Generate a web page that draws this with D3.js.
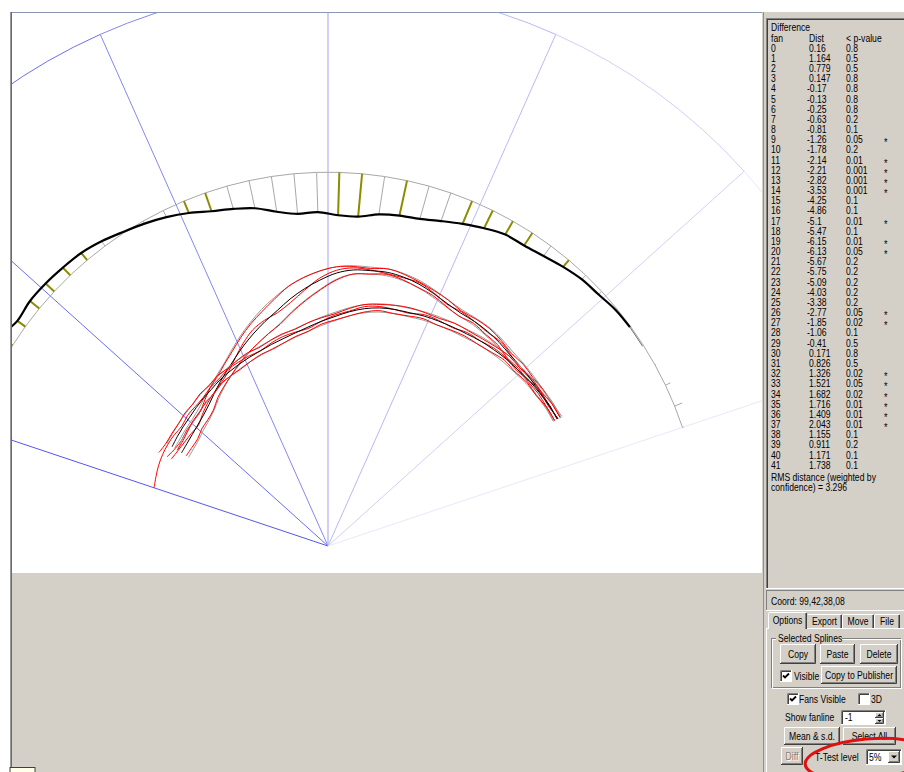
<!DOCTYPE html>
<html>
<head>
<meta charset="utf-8">
<script src="https://cdnjs.cloudflare.com/ajax/libs/d3/7.8.5/d3.min.js"></script>
<style>
  html, body { margin: 0; padding: 0; background: #ffffff; }
  svg { display: block; }
  text { font-family: "Liberation Sans", Arial, sans-serif; font-size: 10.4px; fill: #000; }
</style>
</head>
<body>
<svg id="app" width="904" height="772"></svg>
<script>
// ---------- data ----------
// fan lines of the ultrasound frame, numbered right to left
const fanIds = [0,1,2,3,4,5,6,7,8,9,10,11,12,13,14,15,16,17,18,19,20,
                21,22,23,24,25,26,27,28,29,30,31,32,33,34,35,36,37,38,39,40,41];
// mean difference (mm) between the two spline sets on each fan line
const distValues = [0.16, 1.164, 0.779, 0.147, -0.17, -0.13, -0.25, -0.63, -0.81, -1.26,
                    -1.78, -2.14, -2.21, -2.82, -3.53, -4.25, -4.86, -5.1, -5.47, -6.15,
                    -6.13, -5.67, -5.75, -5.09, -4.03, -3.38, -2.77, -1.85, -1.06, -0.41,
                    0.171, 0.826, 1.326, 1.521, 1.682, 1.716, 1.409, 2.043, 1.155, 0.911,
                    1.171, 1.738];
// t-test p-value bound for each fan
const pValues = [0.8, 0.5, 0.5, 0.8, 0.8, 0.8, 0.8, 0.2, 0.1, 0.05,
                 0.2, 0.01, 0.001, 0.001, 0.001, 0.1, 0.1, 0.01, 0.1, 0.01,
                 0.05, 0.2, 0.2, 0.2, 0.2, 0.2, 0.05, 0.02, 0.1, 0.5,
                 0.8, 0.5, 0.02, 0.05, 0.02, 0.01, 0.01, 0.01, 0.1, 0.2,
                 0.1, 0.1];
const tTestLevel = 0.05;
const rmsDistance = 3.296;
const coordText = "Coord: 99,42,38,08";

// frame: fan boundary lines (degrees from vertical, clockwise) and outer radius (mm)
const frameAngles = [-71.5, -48, -24, 0, 24, 48, 71.5];
const frameRadius = 80;
const fanSpan = [71.5, -71.5];   // angle of fan 0 and fan 41
const diffBaseline = 53.4;       // radius (mm) of the reference arc for the difference curve

// splines: radius (mm) along each fan, starting at splineStartFan
const splineStartFan = 3;
const upperMean = [37.4,37.5,37.4,37.5,37.6,37.7,38.0,38.2,38.3,38.3,
                   38.6,39.1,39.6,39.9,40.0,39.8,39.6,39.0,38.0,36.9,
                   35.7,34.4,33.3,32.2,31.1,30.0,29.0,28.1,27.2,26.4,
                   25.8,25.4,25.1,24.9,24.8];
const upperSd = [0.6,0.6,0.6,0.6,0.6,0.6,0.6,0.6,0.5,0.5,
                 0.5,0.5,0.5,0.5,0.5,0.5,0.6,0.9,1.3,1.6,
                 1.8,1.9,1.8,1.6,1.4,1.2,1.0,1.0,1.0,1.1,
                 1.1,1.1,1.2,1.2,1.2];
const upperSplines = [
  [37.9,37.9,38.0,37.9,38.1,38.0,38.4,38.7,38.7,38.6,
   39.1,39.5,39.9,40.3,40.5,40.1,40.1,39.9,39.3,38.5,
   37.5,36.1,34.8,33.6,32.3,31.0,29.9,28.9,28.2,27.3,
   26.5,26.2,26.1,25.8,25.9,26.3],
  [37.0,37.0,37.1,37.0,37.2,37.1,37.6,37.7,38.0,37.8,
   38.2,38.8,39.1,39.5,39.7,39.3,39.0,38.0,36.6,35.2,
   33.8,32.4,31.5,30.6,29.8,28.9,28.0,27.2,26.4,25.4,
   24.9,24.6,24.1,24.0,24.0],
  [37.5,37.4,37.6,37.5,37.4,37.8,38.2,38.1,38.3,38.5,
   38.5,39.2,39.8,39.8,39.8,39.9,39.9,39.4,38.3,36.7,
   35.2,34.1,33.5,32.7,31.4,30.0,28.7,27.9,27.3,26.7,
   26.0,25.3,25.3,25.3,25.4,25.6]
];
const lowerMean = [37.5,37.4,37.3,37.2,37.0,36.9,36.7,36.5,36.2,36.0,
                   35.8,35.6,35.3,35.1,34.8,34.3,33.6,32.8,32.1,31.4,
                   30.8,30.3,29.9,29.5,29.2,28.9,28.6,28.3,27.9,27.6,
                   27.3,27.0,26.8,26.6,26.4];
const lowerSd = [0.7,0.6,0.6,0.6,0.6,0.6,0.6,0.6,0.6,0.6,
                 0.6,0.6,0.6,0.6,0.6,0.6,0.6,0.6,0.6,0.6,
                 0.6,0.6,0.6,0.6,0.6,0.6,0.6,0.6,0.7,0.7,
                 0.7,0.8,0.8,0.8,0.9];
const lowerSplines = [
  [37.9,37.9,37.6,37.7,37.4,37.5,37.2,36.9,36.7,36.6,
   36.2,36.1,36.0,35.7,35.3,34.9,34.1,33.2,32.6,32.0,
   31.3,31.0,30.5,30.0,29.9,29.5,29.1,29.0,28.5,28.4,
   28.0,27.9,27.6,27.5,27.4,27.6],
  [37.0,37.0,36.7,36.8,36.5,36.6,36.2,35.9,35.8,35.5,
   35.2,35.2,34.8,34.5,34.4,33.8,33.0,32.3,31.7,30.8,
   30.3,29.7,29.2,29.0,28.6,28.2,28.0,27.8,27.2,27.0,
   26.5,26.3,25.9,25.6,25.5],
  [37.6,37.3,37.5,37.2,36.8,37.0,36.9,36.5,36.4,35.9,
   35.9,35.8,35.2,35.1,35.0,34.6,33.7,33.0,32.1,31.2,
   30.9,30.6,30.1,29.5,29.4,29.2,29.0,28.5,28.2,27.7,
   27.5,27.4,27.0,27.1,27.1,27.0,26.8,26.5,26.2]
];

// ---------- layout ----------
const svg = d3.select("#app");
const canvas = { x: 12, y: 13, w: 750, h: 560 };
const origin = { x: 328, y: 546 };
const rScale = d3.scaleLinear().domain([0, frameRadius]).range([0, 560]);
const fanAngle = d3.scaleLinear().domain([0, 41]).range(fanSpan);
const rad = deg => deg * Math.PI / 180;
const frameColor = d3.scaleLinear().domain([-71.5, 71.5])
  .range(["#5656ee", "#e8e8f8"]).interpolate(d3.interpolateRgb);
const FACE = "#d4d0c8";

// ---------- window background ----------
svg.append("rect").attr("x", 0).attr("y", 0).attr("width", 904).attr("height", 772).attr("fill", "#fff");
svg.append("rect").attr("x", 12).attr("y", 573).attr("width", 750).attr("height", 199).attr("fill", FACE);
svg.append("line").attr("x1", 11).attr("x2", 762).attr("y1", 12.5).attr("y2", 12.5).attr("stroke", "#8a96b4");
svg.append("line").attr("x1", 10.5).attr("x2", 10.5).attr("y1", 12).attr("y2", 772).attr("stroke", "#9a9a9a");
svg.append("line").attr("x1", 11.5).attr("x2", 11.5).attr("y1", 12).attr("y2", 772).attr("stroke", "#6a6a6a");
svg.append("rect").attr("x", 10).attr("y", 767.5).attr("width", 25).attr("height", 6)
  .attr("fill", "#ffffea").attr("stroke", "#404040");

// ---------- fan plot ----------
svg.append("defs").append("clipPath").attr("id", "canvasClip")
  .append("rect").attr("x", canvas.x).attr("y", canvas.y).attr("width", canvas.w).attr("height", canvas.h);
const clipped = svg.append("g").attr("clip-path", "url(#canvasClip)");
const plot = clipped.append("g").attr("transform", `translate(${origin.x},${origin.y})`);

// frame lines
const R = rScale(frameRadius);
plot.selectAll("line.frame").data(frameAngles).join("line")
  .attr("class", "frame")
  .attr("x1", 0).attr("y1", 0)
  .attr("x2", a => d3.pointRadial(rad(a), R)[0])
  .attr("y2", a => d3.pointRadial(rad(a), R)[1])
  .attr("stroke", a => frameColor(a)).attr("stroke-width", 1);

// outer arc, one segment per frame sector
const sectors = d3.pairs(frameAngles);
plot.selectAll("path.outer").data(sectors).join("path")
  .attr("class", "outer")
  .attr("d", ([a0, a1]) => {
    const p = d3.path();
    const s = d3.pointRadial(rad(a0), R);
    p.moveTo(s[0], s[1]);
    p.arc(0, 0, R, rad(a0) - Math.PI / 2, rad(a1) - Math.PI / 2, false);
    return p.toString();
  })
  .attr("fill", "none")
  .attr("stroke", ([a0, a1]) => frameColor(Math.abs(a1) > Math.abs(a0) ? a1 : a0))
  .attr("stroke-width", 1);

// reference arc through all fans
const fanPoints = fanIds.map(f => ({ fan: f, r: diffBaseline }));
const radialLinear = d3.lineRadial()
  .angle(d => rad(fanAngle(d.fan)))
  .radius(d => rScale(d.r))
  .defined(d => d.r != null);
plot.append("path").attr("d", radialLinear(fanPoints))
  .attr("fill", "none").attr("stroke", "#a8a8a8").attr("stroke-width", 1);

// per-fan difference ticks (olive where the t-test is significant)
const significant = fanIds.map(f => pValues[f] <= tTestLevel);
plot.selectAll("line.tick").data(fanIds).join("line")
  .attr("class", "tick")
  .attr("x1", f => d3.pointRadial(rad(fanAngle(f)), rScale(diffBaseline))[0])
  .attr("y1", f => d3.pointRadial(rad(fanAngle(f)), rScale(diffBaseline))[1])
  .attr("x2", f => d3.pointRadial(rad(fanAngle(f)), rScale(diffBaseline + distValues[f]))[0])
  .attr("y2", f => d3.pointRadial(rad(fanAngle(f)), rScale(diffBaseline + distValues[f]))[1])
  .attr("stroke", f => significant[f] ? "#8c8c00" : "#a8a8a8")
  .attr("stroke-width", f => significant[f] ? 2 : 1);

// difference curve
const radialSmooth = d3.lineRadial()
  .angle(d => rad(fanAngle(d.fan)))
  .radius(d => rScale(d.r))
  .curve(d3.curveCatmullRom.alpha(0.5));
const diffPoints = fanIds.map(f => ({ fan: f, r: diffBaseline + distValues[f] }));
plot.append("path").attr("d", radialLinear(diffPoints.slice(4, 6)))
  .attr("fill", "none").attr("stroke", "#707070").attr("stroke-width", 1);
plot.append("path").attr("d", radialSmooth(diffPoints.slice(5)))
  .attr("fill", "none").attr("stroke", "#000").attr("stroke-width", 2.2)
  .attr("stroke-linejoin", "round");

// splines
const toPoints = vals => vals.map((r, i) => ({ fan: splineStartFan + i, r }));
function drawSet(mean, sd, splines) {
  const hi = mean.map((m, i) => m + sd[i]);
  const lo = mean.map((m, i) => m - sd[i]);
  [hi, lo].forEach(v => plot.append("path").attr("d", radialSmooth(toPoints(v)))
    .attr("fill", "none").attr("stroke", "#9a9a9a").attr("stroke-width", 1));
  splines.forEach(v => plot.append("path").attr("d", radialSmooth(toPoints(v)))
    .attr("fill", "none").attr("stroke", "#ff0000").attr("stroke-width", 1));
  plot.append("path").attr("d", radialSmooth(toPoints(mean)))
    .attr("fill", "none").attr("stroke", "#000").attr("stroke-width", 1);
}
drawSet(upperMean, upperSd, upperSplines);
drawSet(lowerMean, lowerSd, lowerSplines);

// ---------- side panel ----------
const panel = svg.append("g");
panel.append("rect").attr("x", 762).attr("y", 12).attr("width", 142).attr("height", 760).attr("fill", FACE);
panel.append("line").attr("x1", 763.5).attr("x2", 763.5).attr("y1", 12).attr("y2", 772).attr("stroke", "#909090");

function hline(g, x1, x2, y, c) { g.append("line").attr("x1", x1).attr("x2", x2).attr("y1", y).attr("y2", y).attr("stroke", c); }
function vline(g, x, y1, y2, c) { g.append("line").attr("x1", x).attr("x2", x).attr("y1", y1).attr("y2", y2).attr("stroke", c); }
function label(g, x, y, s, opts = {}) {
  const t = g.append("text")
    .attr("transform", `translate(${x},${y}) scale(${opts.sx || 0.83},1)`)
    .attr("text-anchor", opts.anchor || "start")
    .text(s);
  if (opts.fill) t.style("fill", opts.fill);
  if (opts.size) t.style("font-size", opts.size + "px");
  return t;
}
function raised(g, x, y, w, h) {
  g.append("rect").attr("x", x).attr("y", y).attr("width", w).attr("height", h).attr("fill", FACE);
  g.append("path").attr("d", `M${x + 0.5},${y + h - 1}V${y + 0.5}H${x + w - 1}`).attr("fill", "none").attr("stroke", "#fff");
  g.append("path").attr("d", `M${x},${y + h - 0.5}H${x + w - 0.5}V${y}`).attr("fill", "none").attr("stroke", "#404040");
  g.append("path").attr("d", `M${x + 1},${y + h - 1.5}H${x + w - 1.5}V${y + 1}`).attr("fill", "none").attr("stroke", "#808080");
}
function sunken(g, x, y, w, h, fill) {
  g.append("rect").attr("x", x).attr("y", y).attr("width", w).attr("height", h).attr("fill", fill);
  g.append("path").attr("d", `M${x + 0.5},${y + h}V${y + 0.5}H${x + w}`).attr("fill", "none").attr("stroke", "#808080");
  g.append("path").attr("d", `M${x + 1.5},${y + h - 1}V${y + 1.5}H${x + w - 1}`).attr("fill", "none").attr("stroke", "#404040");
  g.append("path").attr("d", `M${x},${y + h - 0.5}H${x + w - 0.5}V${y}`).attr("fill", "none").attr("stroke", "#fff");
}
function button(g, x, y, w, h, s, disabled) {
  raised(g, x, y, w, h);
  const cx = x + w / 2, by = y + h / 2 + 3.8;
  if (disabled) {
    label(g, cx + 1, by + 1, s, { anchor: "middle", fill: "#fff" });
    label(g, cx, by, s, { anchor: "middle", fill: "#808080" });
  } else {
    label(g, cx, by, s, { anchor: "middle" });
  }
}
function checkbox(g, x, y, checked) {
  sunken(g, x, y, 12, 12, "#fff");
  if (checked) {
    g.append("path").attr("d", `M${x + 3},${y + 5.5}L${x + 5},${y + 7.5}L${x + 9},${y + 3.5}`)
      .attr("fill", "none").attr("stroke", "#000").attr("stroke-width", 1.8);
  }
}
function triangle(g, cx, cy, down, s = 3) {
  const d = down ? `M${cx - s},${cy - s / 2}L${cx + s},${cy - s / 2}L${cx},${cy + s / 2}Z`
                 : `M${cx - s},${cy + s / 2}L${cx + s},${cy + s / 2}L${cx},${cy - s / 2}Z`;
  g.append("path").attr("d", d).attr("fill", "#000");
}

// results list
const list = panel.append("g");
hline(list, 766, 904, 18.5, "#808080");
hline(list, 767, 904, 19.5, "#404040");
vline(list, 766.5, 18, 589, "#808080");
vline(list, 767.5, 19, 588, "#404040");
hline(list, 766, 904, 588.5, "#ffffff");
const colX = { fan: 771, dist: 809, p: 846, star: 884 };
label(list, colX.fan, 31, "Difference");
label(list, colX.fan, 41.5, "fan");
label(list, colX.dist, 41.5, "Dist");
label(list, colX.p, 41.5, "< p-value");
const rowY = d3.scaleLinear().domain([0, 41]).range([51.7, 468.7]);
fanIds.forEach(f => {
  const y = rowY(f);
  label(list, colX.fan, y, String(f));
  label(list, colX.dist - (distValues[f] < 0 ? 2 : 0), y, String(distValues[f]));
  label(list, colX.p, y, String(pValues[f]));
  if (significant[f]) label(list, colX.star, y + 3, "*", { size: 10, sx: 0.9 });
});
label(list, colX.fan, 480.5, "RMS distance (weighted by");
label(list, colX.fan, 491, "confidence) = " + rmsDistance);

// coordinate readout
const coord = panel.append("g");
hline(coord, 766, 904, 590.5, "#808080");
vline(coord, 766.5, 590, 611, "#808080");
hline(coord, 766, 904, 610.5, "#ffffff");
label(coord, 771, 605, coordText);

// tabs
const tabs = panel.append("g");
hline(tabs, 807, 904, 628.5, "#ffffff");
vline(tabs, 766.5, 628, 772, "#ffffff");
hline(tabs, 766, 768, 628.5, "#ffffff");
const tabDefs = [
  { name: "Options", x0: 768, x1: 807, sel: true },
  { name: "Export", x0: 807, x1: 842 },
  { name: "Move", x0: 842, x1: 874 },
  { name: "File", x0: 874, x1: 900 }
];
tabDefs.forEach(t => {
  const top = t.sel ? 612 : 614;
  if (t.sel) tabs.append("rect").attr("x", t.x0).attr("y", top).attr("width", t.x1 - t.x0).attr("height", 17).attr("fill", FACE);
  if (t.x0 !== 807) vline(tabs, t.x0 + 0.5, top + 1, 629, "#ffffff");
  hline(tabs, t.x0 + 1, t.x1 - 1, top + 0.5, "#ffffff");
  vline(tabs, t.x1 - 0.5, top + 1, t.sel ? 629 : 628, "#404040");
  vline(tabs, t.x1 - 1.5, top + 1, t.sel ? 629 : 628, "#808080");
  label(tabs, (t.x0 + t.x1) / 2, t.sel ? 624 : 625, t.name, { anchor: "middle" });
});

// Selected Splines group
const grp = panel.append("g");
grp.append("rect").attr("x", 771.5).attr("y", 638.5).attr("width", 129).attr("height", 49)
  .attr("fill", "none").attr("stroke", "#808080");
grp.append("rect").attr("x", 772.5).attr("y", 639.5).attr("width", 129).attr("height", 49)
  .attr("fill", "none").attr("stroke", "#ffffff");
grp.append("rect").attr("x", 776).attr("y", 633).attr("width", 66).attr("height", 11).attr("fill", FACE);
label(grp, 778, 642, "Selected Splines");
button(grp, 780, 644, 36, 20, "Copy");
button(grp, 820, 644, 35, 20, "Paste");
button(grp, 860, 644, 38, 20, "Delete");
checkbox(grp, 780, 670, true);
label(grp, 794, 680, "Visible");
button(grp, 821, 666, 76, 18, "Copy to Publisher");

// options
const opts = panel.append("g");
checkbox(opts, 787, 693, true);
label(opts, 799, 702.5, "Fans Visible");
checkbox(opts, 858, 693, false);
label(opts, 871, 702.5, "3D");
label(opts, 785, 720.5, "Show fanline");
sunken(opts, 841, 710, 45, 15, "#fff");
label(opts, 845, 721, "-1");
raised(opts, 875, 712, 9, 6);
raised(opts, 875, 718, 9, 6);
triangle(opts, 879.5, 715, false, 2);
triangle(opts, 879.5, 721, true, 2);
button(opts, 784, 727, 56, 18, "Mean & s.d.");
button(opts, 843, 727, 53, 18, "Select All");
button(opts, 781, 747, 22, 18, "Diff", true);
label(opts, 815, 760.5, "T-Test level");
sunken(opts, 866, 749, 36, 16, "#fff");
label(opts, 869, 760.5, "5%");
raised(opts, 888, 751, 12, 12);
triangle(opts, 894, 757, true, 3);

// red highlight ring around the t-test setting
svg.append("ellipse").attr("cx", 0).attr("cy", 0).attr("rx", 63).attr("ry", 20)
  .attr("transform", "translate(868,759) rotate(-5)")
  .attr("fill", "none").attr("stroke", "#e01010").attr("stroke-width", 3);
</script>
</body>
</html>
